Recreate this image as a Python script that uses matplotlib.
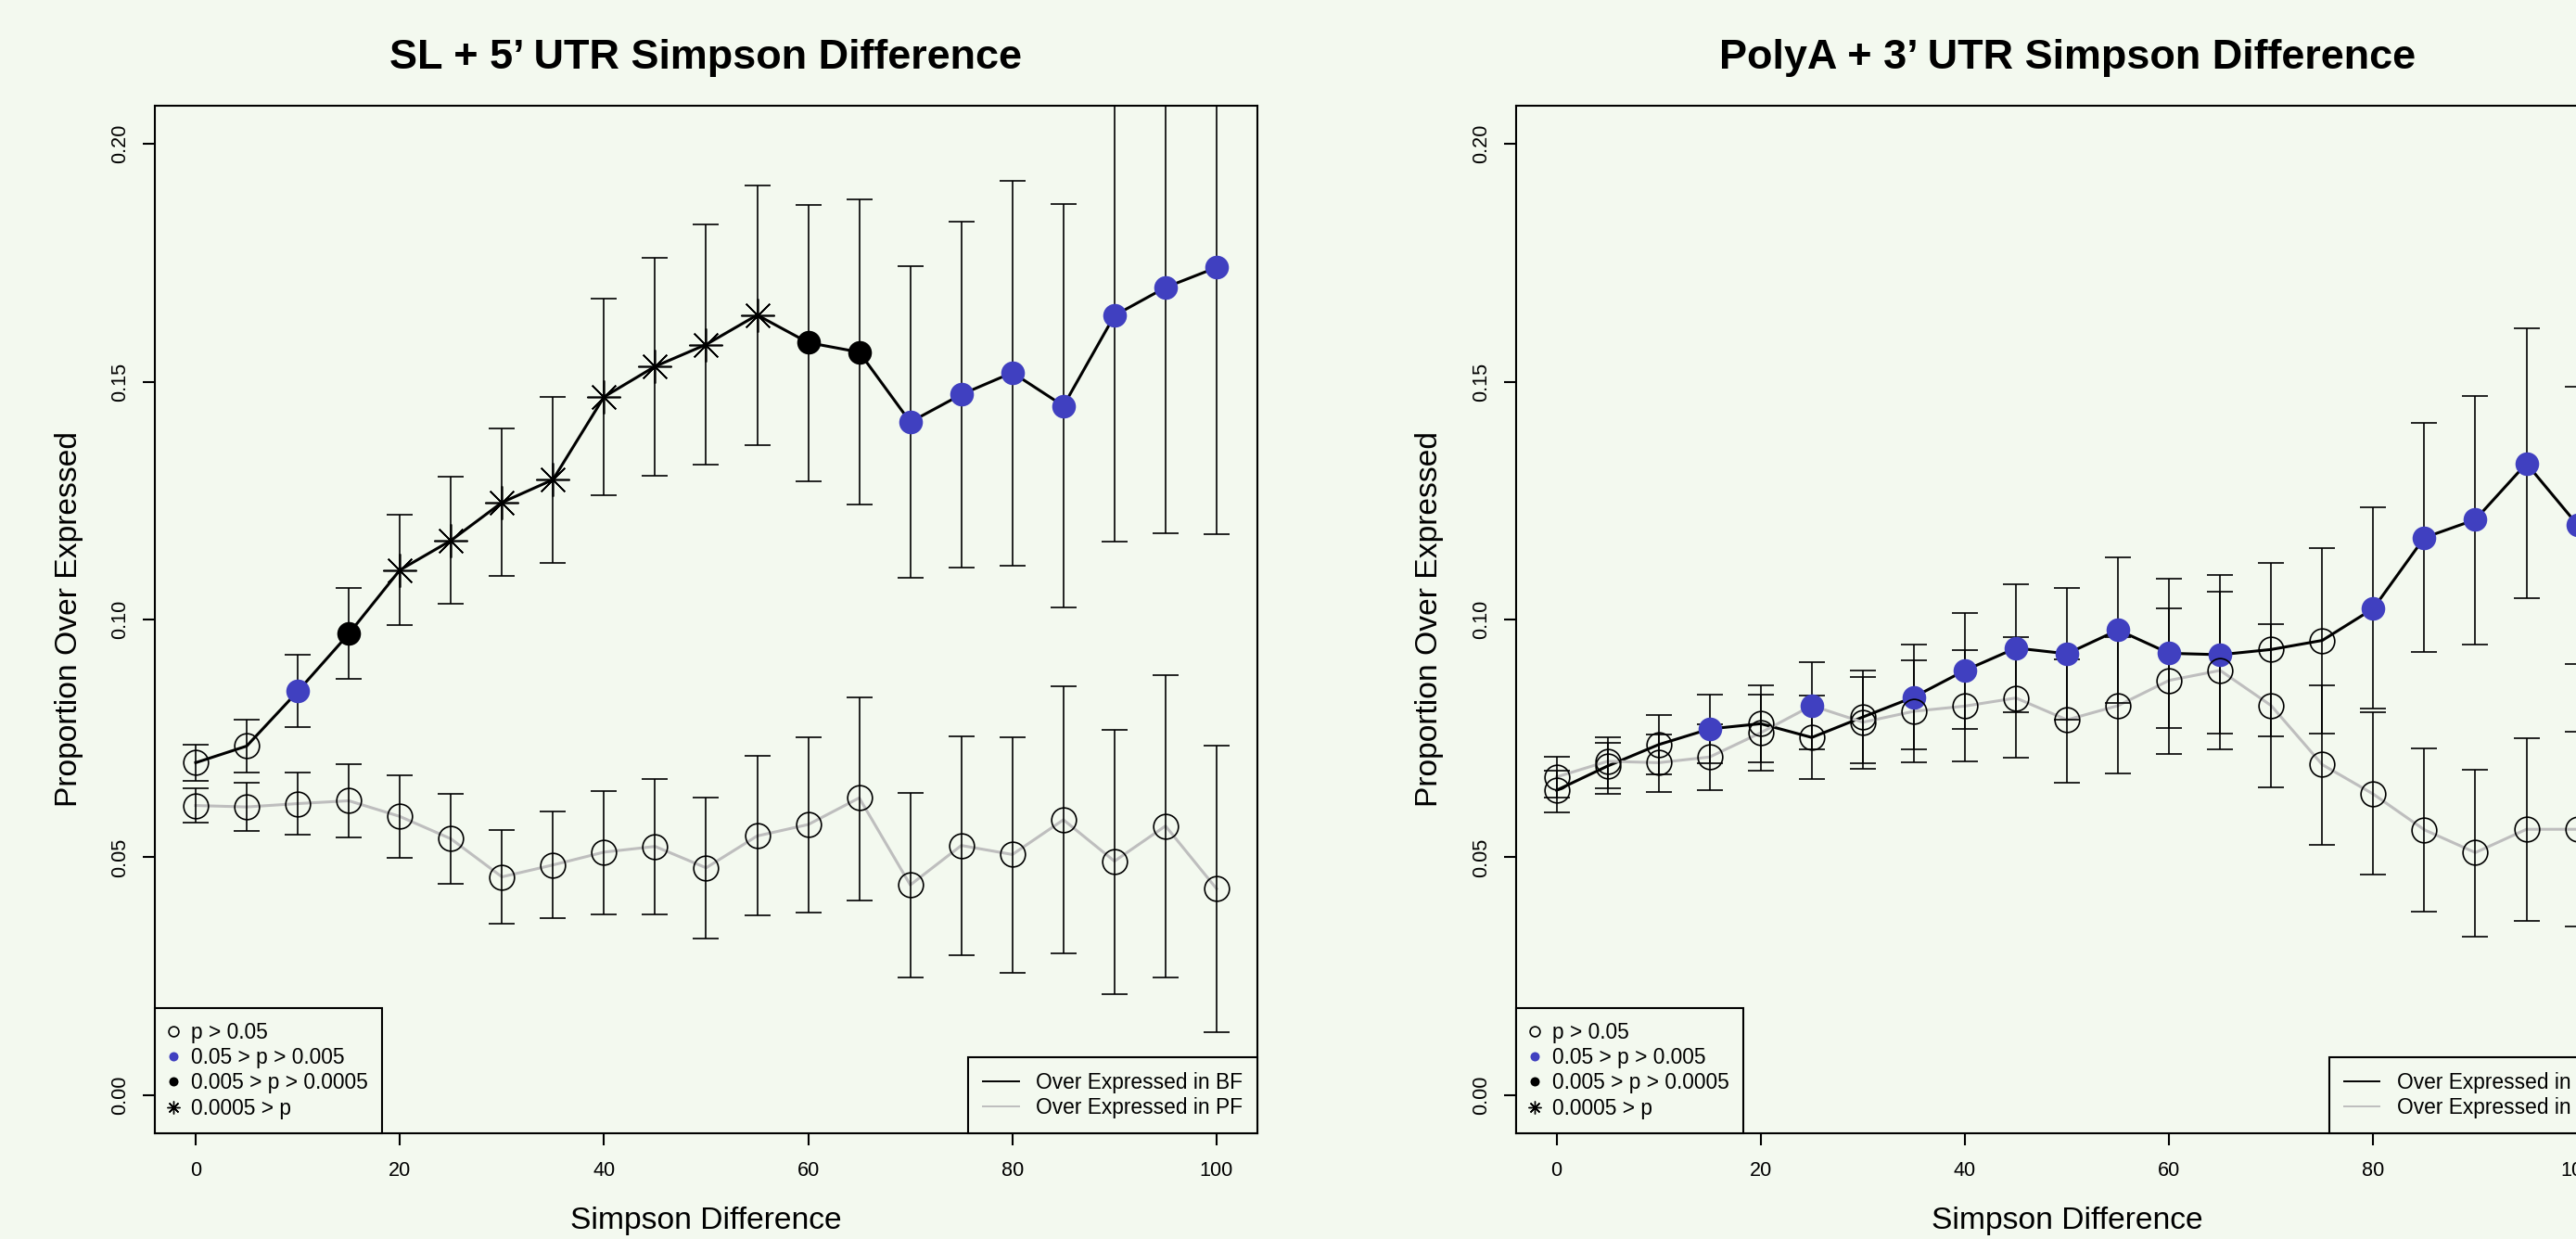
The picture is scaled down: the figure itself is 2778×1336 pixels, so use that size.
import matplotlib
matplotlib.use("Agg")
import matplotlib.pyplot as plt
from matplotlib.lines import Line2D
import numpy as np

plt.rcParams['font.family'] = ['Liberation Sans', 'DejaVu Sans']

# x positions (Simpson difference)
simpson = [0, 5, 10, 15, 20, 25, 30, 35, 40, 45, 50, 55, 60, 65, 70, 75, 80, 85, 90, 95, 100]

# SL + 5' UTR panel
sl_bf = [0.0699, 0.0734, 0.0849, 0.0970, 0.1104, 0.1166, 0.1246, 0.1294, 0.1468, 0.1532, 0.1578,
         0.1640, 0.1582, 0.1562, 0.1415, 0.1473, 0.1519, 0.1449, 0.1639, 0.1698, 0.1740]
sl_bf_lo = [0.0661, 0.0678, 0.0773, 0.0875, 0.0988, 0.1033, 0.1092, 0.1119, 0.1261, 0.1303, 0.1326,
            0.1366, 0.1291, 0.1241, 0.1087, 0.1109, 0.1114, 0.1025, 0.1164, 0.1181, 0.1180]
sl_bf_hi = [0.0737, 0.0790, 0.0925, 0.1066, 0.1220, 0.1301, 0.1402, 0.1468, 0.1675, 0.1761, 0.1831,
            0.1913, 0.1872, 0.1884, 0.1743, 0.1837, 0.1922, 0.1873, 0.2114, 0.2215, 0.2300]
sl_bf_sig = ['n', 'n', 'b', 'k', 's', 's', 's', 's', 's', 's', 's',
             's', 'k', 'k', 'b', 'b', 'b', 'b', 'b', 'b', 'b']

sl_pf = [0.0609, 0.0606, 0.0613, 0.0619, 0.0586, 0.0539, 0.0459, 0.0484, 0.0511, 0.0523, 0.0478,
         0.0545, 0.0569, 0.0625, 0.0442, 0.0525, 0.0506, 0.0579, 0.0492, 0.0566, 0.0434]
sl_pf_lo = [0.0574, 0.0555, 0.0547, 0.0541, 0.0499, 0.0445, 0.0360, 0.0372, 0.0381, 0.0381, 0.0330,
            0.0378, 0.0384, 0.0410, 0.0248, 0.0295, 0.0258, 0.0298, 0.0213, 0.0248, 0.0132]
sl_pf_hi = [0.0645, 0.0657, 0.0678, 0.0696, 0.0672, 0.0633, 0.0557, 0.0596, 0.0640, 0.0665, 0.0625,
            0.0713, 0.0752, 0.0837, 0.0635, 0.0754, 0.0752, 0.0860, 0.0768, 0.0883, 0.0734]
sl_pf_sig = ['n'] * 21

# PolyA + 3' UTR panel
pa_bf = [0.0641, 0.0692, 0.0737, 0.0770, 0.0781, 0.0752, 0.0795, 0.0837, 0.0893, 0.0940, 0.0928,
         0.0978, 0.0929, 0.0926, 0.0937, 0.0956, 0.1023, 0.1172, 0.1210, 0.1328, 0.1199]
pa_bf_lo = [0.0595, 0.0634, 0.0675, 0.0698, 0.0699, 0.0664, 0.0697, 0.0728, 0.0770, 0.0805, 0.0789,
            0.0825, 0.0772, 0.0760, 0.0754, 0.0761, 0.0813, 0.0932, 0.0948, 0.1044, 0.0907]
pa_bf_hi = [0.0682, 0.0741, 0.0799, 0.0842, 0.0861, 0.0840, 0.0893, 0.0947, 0.1013, 0.1074, 0.1067,
            0.1131, 0.1085, 0.1093, 0.1119, 0.1150, 0.1236, 0.1413, 0.1469, 0.1613, 0.1490]
pa_bf_sig = ['n', 'n', 'n', 'b', 'n', 'n', 'n', 'b', 'b', 'b', 'b',
             'b', 'b', 'b', 'n', 'n', 'b', 'b', 'b', 'b', 'b']

pa_pf = [0.0669, 0.0702, 0.0699, 0.0711, 0.0762, 0.0819, 0.0784, 0.0807, 0.0818, 0.0835, 0.0789,
         0.0819, 0.0872, 0.0893, 0.0819, 0.0695, 0.0633, 0.0558, 0.0510, 0.0559, 0.0559]
pa_pf_lo = [0.0625, 0.0646, 0.0637, 0.0642, 0.0682, 0.0727, 0.0686, 0.0699, 0.0701, 0.0709, 0.0657,
            0.0677, 0.0718, 0.0728, 0.0648, 0.0527, 0.0463, 0.0385, 0.0333, 0.0366, 0.0354]
pa_pf_hi = [0.0711, 0.0752, 0.0758, 0.0780, 0.0842, 0.0910, 0.0880, 0.0914, 0.0935, 0.0962, 0.0917,
            0.0962, 0.1023, 0.1058, 0.0991, 0.0862, 0.0805, 0.0729, 0.0684, 0.0750, 0.0765]
pa_pf_sig = ['n', 'n', 'n', 'n', 'n', 'b', 'n', 'n', 'n', 'n', 'n',
             'n', 'n', 'n', 'n', 'n', 'n', 'n', 'n', 'n', 'n']

sig_labels = ['p > 0.05', '0.05 > p > 0.005', '0.005 > p > 0.0005', '0.0005 > p']
line_labels = ['Over Expressed in BF', 'Over Expressed in PF']

BG = '#f3f9ef'
BLUE = '#4040c0'
GREY = '#bebebe'

marker_style = {
    'n': dict(marker='o', mfc='none', mec='black', ms=9.6, mew=0.6),
    'b': dict(marker='o', mfc=BLUE, mec=BLUE, ms=9.2, mew=0),
    'k': dict(marker='o', mfc='black', mec='black', ms=9.2, mew=0),
    's': dict(marker=(8, 2, 0), mfc='black', mec='black', ms=13, mew=0.6),
}


def draw_series(ax, y, lo, hi, sig, color):
    x = np.array(simpson)
    y = np.array(y)
    ax.plot(x, y, color=color, lw=1.1, zorder=2)
    ax.errorbar(x, y, yerr=[y - np.array(lo), np.array(hi) - y], fmt='none',
                ecolor='black', elinewidth=0.6, capsize=5, capthick=0.6, zorder=3)
    sig = np.array(sig)
    for code, st in marker_style.items():
        m = sig == code
        if m.any():
            ax.plot(x[m], y[m], ls='none', zorder=4, **st)


def style_axes(ax, title):
    ax.set_facecolor(BG)
    ax.set_xlim(-4, 104)
    ax.set_ylim(-0.008, 0.208)
    ax.set_xticks([0, 20, 40, 60, 80, 100])
    ax.set_yticks([0, 0.05, 0.10, 0.15, 0.20])
    ax.set_yticklabels(['0.00', '0.05', '0.10', '0.15', '0.20'])
    ax.tick_params(direction='out', length=4.7, width=0.75, labelsize=7.8, pad=5)
    ax.tick_params(axis='x', pad=6)
    ax.tick_params(axis='y', labelrotation=90)
    for lab in ax.get_yticklabels():
        lab.set_va('center')
    for s in ax.spines.values():
        s.set_linewidth(0.75)
    ax.set_title(title, fontsize=16.2, fontweight='bold', pad=14.3)
    ax.set_xlabel('Simpson Difference', fontsize=12.1, va='center')
    ax.xaxis.set_label_coords(0.5, -0.085)
    ax.set_ylabel('Proportion Over Expressed', fontsize=12.1, va='center')
    ax.yaxis.set_label_coords(-0.078, 0.5)

    sig_handles = [
        Line2D([], [], ls='none', marker='o', mfc='none', mec='black', ms=3.9, mew=0.6),
        Line2D([], [], ls='none', marker='o', mfc=BLUE, mec=BLUE, ms=3.6, mew=0),
        Line2D([], [], ls='none', marker='o', mfc='black', mec='black', ms=3.6, mew=0),
        Line2D([], [], ls='none', marker=(8, 2, 0), color='black', ms=5, mew=0.5),
    ]
    leg1 = ax.legend(sig_handles, sig_labels, loc='lower left', bbox_to_anchor=(0, 0),
                     borderaxespad=0, fontsize=8.2, handlelength=0.4, handletextpad=0.64,
                     borderpad=0.68, labelspacing=0.18, fancybox=False, framealpha=1,
                     facecolor=BG, edgecolor='black')
    leg1.get_frame().set_linewidth(0.75)
    ax.add_artist(leg1)

    line_handles = [Line2D([], [], color='black', lw=0.7),
                    Line2D([], [], color=GREY, lw=0.7)]
    leg2 = ax.legend(line_handles, line_labels, loc='lower right', bbox_to_anchor=(1, 0),
                     borderaxespad=0, fontsize=8.2, handlelength=1.7, handletextpad=0.8,
                     borderpad=0.7, labelspacing=0.18, fancybox=False, framealpha=1,
                     facecolor=BG, edgecolor='black')
    leg2.get_frame().set_linewidth(0.75)


fig = plt.figure(figsize=(13.89, 6.68), dpi=200, facecolor=BG)
ax1 = fig.add_axes([0.06011, 0.08533, 0.42801, 0.82934])
ax2 = fig.add_axes([0.58841, 0.08533, 0.42801, 0.82934])

draw_series(ax1, sl_bf, sl_bf_lo, sl_bf_hi, sl_bf_sig, 'black')
draw_series(ax1, sl_pf, sl_pf_lo, sl_pf_hi, sl_pf_sig, GREY)
style_axes(ax1, 'SL + 5\u2019 UTR Simpson Difference')

draw_series(ax2, pa_bf, pa_bf_lo, pa_bf_hi, pa_bf_sig, 'black')
draw_series(ax2, pa_pf, pa_pf_lo, pa_pf_hi, pa_pf_sig, GREY)
style_axes(ax2, 'PolyA + 3\u2019 UTR Simpson Difference')

fig.savefig('out.png', dpi=200, facecolor=BG)
